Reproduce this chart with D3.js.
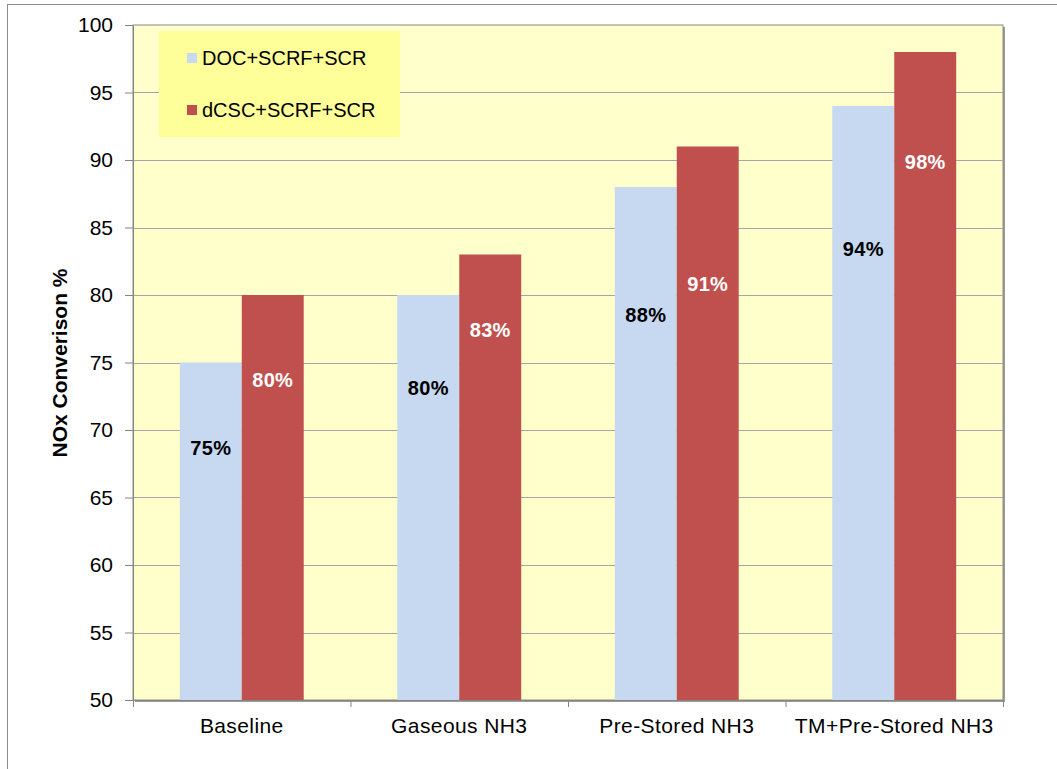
<!DOCTYPE html>
<html><head><meta charset="utf-8">
<script src="https://cdn.jsdelivr.net/npm/d3@7"></script>
<style>
html,body{margin:0;padding:0;background:#fff;}
svg{display:block;font-family:Arial,"Liberation Sans",sans-serif;}
</style></head>
<body>
<svg id="chart" width="1057" height="769"></svg>
<script>
const categories = ["Baseline", "Gaseous NH3", "Pre-Stored NH3", "TM+Pre-Stored NH3"];
const seriesNames = ["DOC+SCRF+SCR", "dCSC+SCRF+SCR"];
const docValues = [75, 80, 88, 94];
const dcscValues = [80, 83, 91, 98];
// vertical anchor of each value label, in axis units
const docLabelAt = [68.7, 73.1, 78.5, 83.4];
const dcscLabelAt = [73.7, 77.4, 80.8, 89.9];
const yTicks = [50, 55, 60, 65, 70, 75, 80, 85, 90, 95, 100];

const colors = ["#c6d9f1", "#c0504d"];
const labelColors = ["#000000", "#ffffff"];

const svg = d3.select("#chart");
const m = {left: 133, right: 1003, top: 25, bottom: 700};

// outer frame
svg.append("rect").attr("x", 7.5).attr("y", 4.5).attr("width", 1100).attr("height", 800)
  .attr("fill", "none").attr("stroke", "#8c8c8c").attr("stroke-width", 1);

const x0 = d3.scaleBand().domain(categories).range([m.left, m.right]).paddingInner(0).paddingOuter(0);
const x1 = d3.scaleBand().domain(seriesNames).range([0, x0.bandwidth()]).paddingInner(0).paddingOuter(0.755);
const y = d3.scaleLinear().domain([50, 100]).range([m.bottom, m.top]);

// shadow + plot background
svg.append("rect").attr("x", m.left + 2).attr("y", m.top + 2).attr("width", m.right - m.left).attr("height", m.bottom - m.top)
  .attr("fill", "#9a9a9a");
svg.append("rect").attr("x", m.left).attr("y", m.top).attr("width", m.right - m.left).attr("height", m.bottom - m.top)
  .attr("fill", "#ffffcc").attr("stroke", "#8a8a8a").attr("stroke-width", 1);

// gridlines
svg.append("g").selectAll("line").data(yTicks.filter(t => t > 50 && t < 100)).join("line")
  .attr("x1", m.left).attr("x2", m.right)
  .attr("y1", d => Math.round(y(d)) + 0.5).attr("y2", d => Math.round(y(d)) + 0.5)
  .attr("stroke", "#a6a6a6").attr("stroke-width", 1.2);

// legend box
const lg = svg.append("g");
lg.append("rect").attr("x", 159).attr("y", 31).attr("width", 241).attr("height", 106).attr("fill", "#ffff99");
const lgRows = [{n: seriesNames[0], c: colors[0], y: 58}, {n: seriesNames[1], c: colors[1], y: 110}];
lg.selectAll("rect.sw").data(lgRows).join("rect").attr("class", "sw")
  .attr("x", 187).attr("y", d => d.y - 5).attr("width", 10).attr("height", 10).attr("fill", d => d.c);
lg.selectAll("text").data(lgRows).join("text")
  .attr("x", 202).attr("y", d => d.y).attr("dy", "0.36em")
  .attr("font-size", 20).attr("fill", "#000").text(d => d.n);

// bars
const data = categories.map((c, i) => ({cat: c, vals: [
  {s: seriesNames[0], v: docValues[i], at: docLabelAt[i], k: 0},
  {s: seriesNames[1], v: dcscValues[i], at: dcscLabelAt[i], k: 1}]}));

const groups = svg.append("g").selectAll("g").data(data).join("g")
  .attr("transform", d => `translate(${x0(d.cat)},0)`);
groups.selectAll("rect").data(d => d.vals).join("rect")
  .attr("x", d => x1(d.s)).attr("width", x1.bandwidth())
  .attr("y", d => y(d.v)).attr("height", d => y(50) - y(d.v))
  .attr("fill", d => colors[d.k]);
groups.selectAll("text").data(d => d.vals).join("text")
  .attr("x", d => x1(d.s) + x1.bandwidth() / 2).attr("y", d => y(d.at)).attr("dy", "0.36em")
  .attr("text-anchor", "middle").attr("font-size", 20).attr("font-weight", "bold")
  .attr("letter-spacing", "0.3px")
  .attr("fill", d => labelColors[d.k]).text(d => d.v + "%");

// y axis
const yAxis = svg.append("g").attr("transform", `translate(${m.left},0)`)
  .call(d3.axisLeft(y).tickValues(yTicks).tickSize(8).tickPadding(12));
yAxis.select(".domain").attr("stroke", "#868686");
yAxis.selectAll(".tick line").attr("stroke", "#868686");
yAxis.selectAll(".tick text").attr("font-size", 21).attr("fill", "#000").attr("font-family", "Arial, 'Liberation Sans', sans-serif");

// x axis
const xAxis = svg.append("g").attr("transform", `translate(0,${m.bottom})`)
  .call(d3.axisBottom(x0).tickSize(0).tickPadding(18));
xAxis.select(".domain").attr("stroke", "#868686");
xAxis.selectAll(".tick text").attr("font-size", 21).attr("letter-spacing", "0.4px")
  .attr("fill", "#000").attr("font-family", "Arial, 'Liberation Sans', sans-serif");
// category separator ticks
svg.append("g").selectAll("line").data(categories.map(c => x0(c)).concat([m.right])).join("line")
  .attr("x1", d => d + 0.5).attr("x2", d => d + 0.5)
  .attr("y1", m.bottom).attr("y2", m.bottom + 7).attr("stroke", "#868686");

// y title
svg.append("text").attr("transform", "translate(67,363) rotate(-90)")
  .attr("text-anchor", "middle").attr("font-size", 21).attr("font-weight", "bold")
  .attr("fill", "#000").text("NOx Converison %");
</script>
</body></html>
